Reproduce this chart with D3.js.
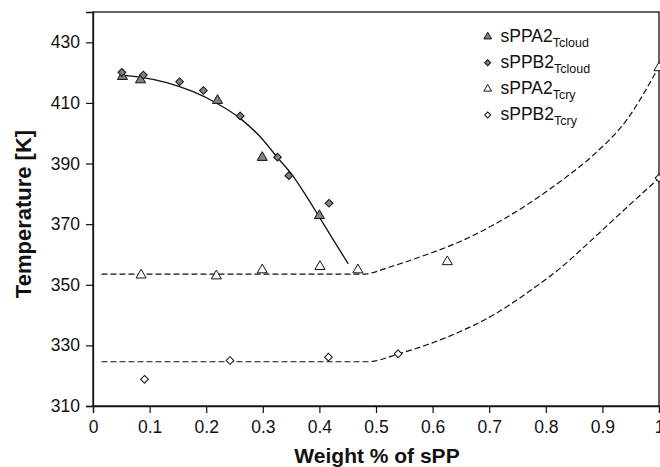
<!DOCTYPE html>
<html>
<head>
<meta charset="utf-8">
<script src="https://cdn.jsdelivr.net/npm/d3@7"></script>
<style>
  html, body { margin: 0; padding: 0; background: #fff; }
  svg { display: block; }
  text { font-family: "Liberation Sans", Arial, sans-serif; fill: #111; }
</style>
</head>
<body>
<svg id="chart" width="660" height="467"></svg>
<script>
// Axis ticks and labels
const xTickValues = [0, 0.1, 0.2, 0.3, 0.4, 0.5, 0.6, 0.7, 0.8, 0.9, 1];
const xTickLabels = ["0", "0.1", "0.2", "0.3", "0.4", "0.5", "0.6", "0.7", "0.8", "0.9", "1"];
const yTickValues = [310, 330, 350, 370, 390, 410, 430];
const xTitle = "Weight % of sPP";
const yTitle = "Temperature [K]";

// Measured points: [weight fraction of sPP, temperature K]
const cloudA = [[0.052, 418.7], [0.084, 417.6], [0.22, 410.8], [0.299, 392.0], [0.40, 372.8]];
const cloudB = [[0.051, 420.1], [0.089, 419.2], [0.153, 417.0], [0.195, 414.1], [0.26, 405.7],
                [0.326, 392.1], [0.346, 386.0], [0.417, 376.9]];
const cryA = [[0.085, 353.2], [0.218, 352.9], [0.299, 354.9], [0.401, 356.0], [0.468, 354.9],
              [0.626, 357.6], [1.0, 421.6]];
const cryB = [[0.091, 318.8], [0.242, 325.0], [0.416, 326.1], [0.539, 327.2], [1.0, 385.2]];

// Trend lines
const cloudFit = [[0.047, 419.2], [0.083, 418.5], [0.13, 416.7], [0.177, 413.7], [0.2185, 409.9],
                  [0.26, 404.9], [0.295, 398.9], [0.3245, 392.3], [0.354, 385.7], [0.3775, 379.1],
                  [0.401, 372.0], [0.4246, 364.8], [0.451, 356.9]];
const cryAFit = [[0.015, 353.5], [0.476, 353.5], [0.53, 356.2], [0.59, 360.0], [0.648, 364.2],
                 [0.707, 369.7], [0.766, 376.3], [0.825, 384.0], [0.884, 392.8], [0.943, 404.4],
                 [1.0, 422.0]];
const cryBFit = [[0.015, 324.6], [0.485, 324.6], [0.54, 327.2], [0.59, 330.2], [0.648, 334.5],
                 [0.707, 340.0], [0.766, 347.2], [0.825, 355.4], [0.884, 365.3], [0.943, 375.5],
                 [1.0, 385.2]];

// Legend entries
const legendNames = ["sPPA2", "sPPB2", "sPPA2", "sPPB2"];
const legendSubs = ["Tcloud", "Tcloud", "Tcry", "Tcry"];

const svg = d3.select("#chart");
const plotLeft = 93, plotRight = 659, plotTop = 12, plotBottom = 406;

const x = d3.scaleLinear().domain([0, 1]).range([plotLeft, plotRight]);
const y = d3.scaleLinear().domain([310, 440]).range([plotBottom, plotTop]);

const fmt = d => xTickLabels[xTickValues.indexOf(d)];

// Plot frame
svg.append("rect")
  .attr("x", plotLeft).attr("y", plotTop)
  .attr("width", plotRight - plotLeft).attr("height", plotBottom - plotTop)
  .attr("fill", "none").attr("stroke", "#111").attr("stroke-width", 1.3);

// Axes
const xAxis = svg.append("g")
  .attr("transform", `translate(0,${plotBottom})`)
  .call(d3.axisBottom(x).tickValues(xTickValues).tickFormat(fmt).tickSize(7).tickPadding(8));
const yAxis = svg.append("g")
  .attr("transform", `translate(${plotLeft},0)`)
  .call(d3.axisLeft(y).tickValues(yTickValues).tickSize(7).tickPadding(6));

[xAxis, yAxis].forEach(g => {
  g.select(".domain").attr("stroke", "#111").attr("stroke-width", 1.3);
  g.selectAll(".tick line").attr("stroke", "#111").attr("stroke-width", 1.2);
  g.selectAll(".tick text")
    .attr("font-family", "Liberation Sans, Arial, sans-serif")
    .attr("font-size", 17.5).attr("fill", "#111");
});

// Axis titles
svg.append("text")
  .attr("x", (plotLeft + plotRight) / 2 + 1).attr("y", 463)
  .attr("text-anchor", "middle")
  .attr("font-size", 21).attr("font-weight", "bold")
  .text(xTitle);
svg.append("text")
  .attr("transform", `translate(31,214) rotate(-90)`)
  .attr("text-anchor", "middle")
  .attr("font-size", 22).attr("font-weight", "bold")
  .text(yTitle);

// Trend lines
const line = d3.line().x(d => x(d[0])).y(d => y(d[1])).curve(d3.curveMonotoneX);
svg.append("path").datum(cloudFit).attr("d", line)
  .attr("fill", "none").attr("stroke", "#111").attr("stroke-width", 1.3);
[cryAFit, cryBFit].forEach(data => {
  svg.append("path").datum(data).attr("d", line)
    .attr("fill", "none").attr("stroke", "#111").attr("stroke-width", 1.2)
    .attr("stroke-dasharray", "6,3");
});

// Markers
const tri = d3.symbol().type(d3.symbolTriangle).size(44);
const dia = d3.symbol().type(d3.symbolSquare).size(30);
const series = [
  { data: cloudA, shape: tri, rot: 0, fill: "#808080" },
  { data: cloudB, shape: dia, rot: 45, fill: "#808080" },
  { data: cryA, shape: tri, rot: 0, fill: "#fff" },
  { data: cryB, shape: dia, rot: 45, fill: "#fff" }
];
series.forEach(s => {
  svg.append("g").selectAll("path").data(s.data).join("path")
    .attr("d", s.shape)
    .attr("transform", d => `translate(${x(d[0])},${y(d[1])}) rotate(${s.rot})`)
    .attr("fill", s.fill).attr("stroke", "#111").attr("stroke-width", 1);
});

// Legend
const legTri = d3.symbol().type(d3.symbolTriangle).size(26);
const legDia = d3.symbol().type(d3.symbolSquare).size(18);
const legend = svg.append("g");
legendNames.forEach((name, i) => {
  const ly = 36.7 + i * 26.1;
  const s = series[i];
  legend.append("path")
    .attr("d", i % 2 === 0 ? legTri : legDia)
    .attr("transform", `translate(487.7,${ly}) rotate(${s.rot})`)
    .attr("fill", s.fill).attr("stroke", "#111").attr("stroke-width", 1);
  const t = legend.append("text")
    .attr("x", 500.5).attr("y", ly + 5)
    .attr("font-size", 17.5);
  t.append("tspan").text(name);
  t.append("tspan").attr("dy", 5).attr("font-size", 12.5).text(legendSubs[i]);
});
</script>
</body>
</html>
